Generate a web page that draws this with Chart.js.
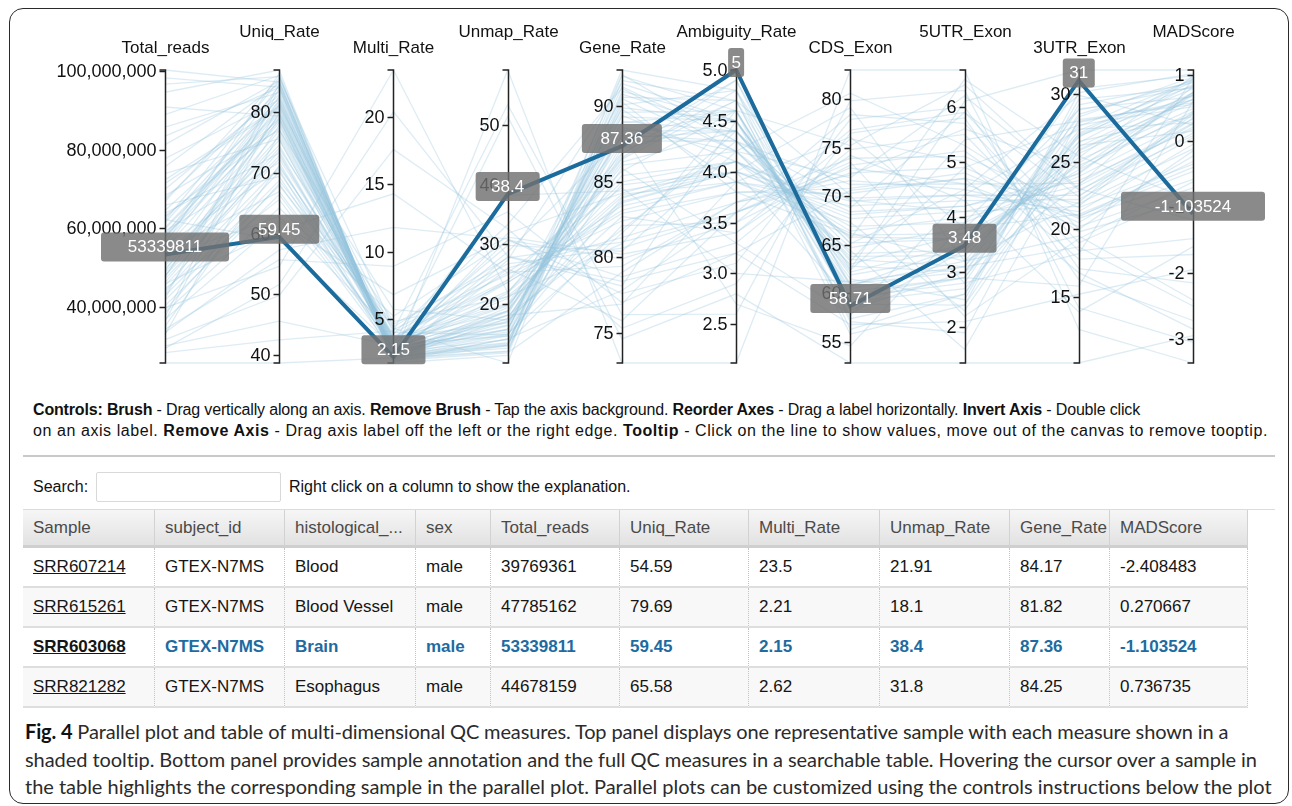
<!DOCTYPE html>
<html>
<head>
<meta charset="utf-8">
<title>QC parallel plot</title>
<script src="https://cdn.jsdelivr.net/npm/chart.js@4.4.1/dist/chart.umd.min.js"></script>
<style>
  html, body { margin: 0; padding: 0; background: #fff; }
  body { width: 1292px; height: 806px; position: relative; overflow: hidden;
         font-family: "Liberation Sans", Arial, sans-serif; color: #111; }
  #plotWrap { position: absolute; left: 0; top: 0; width: 1292px; height: 380px; }
  #frame { position: absolute; left: 9px; top: 8px; width: 1278px; height: 794px;
           border: 1.5px solid #2a2a2a; border-radius: 14px; pointer-events: none; }
  #controls { position: absolute; left: 33px; top: 399px; font-size: 16px; line-height: 21px; color: #111; }
  #controls div { white-space: nowrap; }
  #rule { position: absolute; left: 23px; top: 455px; width: 1252px; height: 0; border-top: 2px solid #c9c9c9; }
  #searchLabel { position: absolute; left: 33px; top: 478px; font-size: 16px; white-space: nowrap; }
  #searchBox { position: absolute; left: 96px; top: 472px; width: 183px; height: 28px; border: 1px solid #d9d9d9; border-radius: 2px; }
  #searchHint { position: absolute; left: 289px; top: 478px; font-size: 16px; white-space: nowrap; }
  #tableTop { position: absolute; left: 23px; top: 509px; width: 1252px; height: 0; border-top: 1px solid #dcdcdc; }
  #qcTable { position: absolute; left: 23px; top: 510px; border-collapse: separate; border-spacing: 0;
             table-layout: fixed; width: 1225px; font-size: 17px; }
  #qcTable th { height: 35px; padding: 0 0 0 10px; text-align: left; font-weight: normal; color: #4a4a4a;
                background: linear-gradient(#f6f6f6, #e2e2e2); border-right: 1px solid #d2d2d2;
                border-bottom: 3px solid #cfcfcf; white-space: nowrap; overflow: hidden; }
  #qcTable td { height: 38px; padding: 0 0 0 10px; border-bottom: 2px solid #dedede; border-right: 1px dotted #c4c4c4;
                white-space: nowrap; overflow: hidden; color: #151515; }
  #qcTable tbody tr:nth-child(even) td { background: #f8f8f8; }
  #qcTable td.sid { text-decoration: underline; }
  #qcTable tr.hl td { font-weight: bold; color: #1d6ba0; }
  #qcTable tr.hl td.sid { color: #151515; }
  #caption { position: absolute; left: 25px; top: 718px; font-family: Lato, "Noto Sans", sans-serif;
             font-size: 20px; line-height: 27.5px; color: #2b2b2b; }
  #caption div { white-space: nowrap; }
  #caption b { color: #111; }
</style>
</head>
<body>
<div id="plotWrap"><canvas id="pc" width="1292" height="380"></canvas></div>

<div id="controls">
  <div class="fit" data-w="1107"><b>Controls: Brush</b> - Drag vertically along an axis. <b>Remove Brush</b> - Tap the axis background. <b>Reorder Axes</b> - Drag a label horizontally. <b>Invert Axis</b> - Double click</div>
  <div class="fit" data-w="1235">on an axis label. <b>Remove Axis</b> - Drag axis label off the left or the right edge. <b>Tooltip</b> - Click on the line to show values, move out of the canvas to remove tooptip.</div>
</div>
<div id="rule"></div>
<div id="searchLabel">Search:</div>
<div id="searchBox"></div>
<div id="searchHint">Right click on a column to show the explanation.</div>
<div id="tableTop"></div>
<table id="qcTable"><colgroup id="cols"></colgroup><thead><tr id="headRow"></tr></thead><tbody id="tableBody"></tbody></table>

<div id="caption">
  <div class="fit" data-w="1204"><b>Fig. 4</b> Parallel plot and table of multi-dimensional QC measures. Top panel displays one representative sample with each measure shown in a</div>
  <div class="fit" data-w="1232">shaded tooltip. Bottom panel provides sample annotation and the full QC measures in a searchable table. Hovering the cursor over a sample in</div>
  <div class="fit" data-w="1247">the table highlights the corresponding sample in the parallel plot. Parallel plots can be customized using the controls instructions below the plot</div>
</div>
<div id="frame"></div>

<script>
// ---- QC measures, one array per dimension (same sample order in every array) ----
const dimensionNames = ['Total_reads', 'Uniq_Rate', 'Multi_Rate', 'Unmap_Rate', 'Gene_Rate',
                        'Ambiguity_Rate', 'CDS_Exon', '5UTR_Exon', '3UTR_Exon', 'MADScore'];

const totalReads = [39769361, 47785162, 53339811, 44678159, 98214530, 61402887, 57933104, 35120476,
  66812390, 28431552, 72305918, 49618273, 85733046, 42907731, 55214689, 31708215, 63128840, 46205517,
  94561203, 38624918, 58709345, 51302786, 69918402, 33547120, 60216655, 44109873, 75621094, 25794226,
  54836012, 48017644, 64509371, 40318825, 56627903, 36912458, 81247760, 52018334, 45506291, 67433718,
  30126507, 59815242, 50429106, 88902371, 41716638, 62734019, 34329587, 57318820, 47112945, 100213457,
  58104322, 43217690, 65903118, 37402265, 52716048, 90813377, 61925410, 48806239, 71408852, 39211573,
  56018846, 45930127, 77702415, 33016694, 59327781, 50918302, 68311049, 42106655, 54129973, 96604518,
  63817260, 29522847, 57629104, 47718536, 73906281, 36317449, 55702618, 83411907, 49215370, 62208841];
const uniqRate = [54.59, 79.69, 59.45, 65.58, 84.1, 82.3, 78.5, 71.2, 85.6, 42.5, 80.9, 75.4, 83.2, 68.7,
  81.7, 49.8, 77.3, 73.6, 86.9, 64.2, 79.8, 76.9, 82.8, 57.3, 80.4, 70.1, 84.7, 38.7, 78.2, 72.8, 81.1,
  66.4, 79.1, 62.0, 85.1, 74.5, 70.9, 83.5, 45.6, 80.1, 76.0, 86.0, 67.9, 78.8, 55.7, 81.9, 72.3, 84.9,
  84.3, 77.8, 69.4, 83.9, 62.8, 79.3, 85.2, 74.0, 80.6, 68.2, 86.3, 60.5, 82.0, 76.4, 71.7, 81.4, 77.0,
  84.6, 66.9, 85.8, 73.2, 51.6, 82.5, 78.9, 75.6, 81.2, 70.5, 84.0, 79.6, 58.9];
const multiRate = [23.5, 2.21, 2.15, 2.62, 2.4, 3.1, 2.9, 3.5, 4.3, 4.1, 2.6, 3.3, 2.1, 4.6, 2.5, 17.6,
  3.0, 2.8, 1.72, 5.2, 2.7, 3.2, 2.3, 11.8, 2.0, 3.9, 2.2, 2.1, 2.4, 3.6, 2.6, 2.9, 2.1, 6.8, 1.9, 3.4,
  4.2, 2.5, 3.0, 2.8, 3.1, 2.0, 4.4, 2.3, 8.9, 2.4, 3.7, 2.1,
  2.3, 3.4, 2.7, 2.0, 3.9, 2.6, 2.2, 4.8, 2.4, 3.1, 1.9, 14.3, 2.7, 3.5, 2.4, 2.9, 5.7,
  2.2, 3.3, 2.1, 2.8, 20.4, 2.5, 3.0, 2.6, 4.0, 2.2, 1.8, 3.6, 2.9];
const unmapRate = [21.91, 18.1, 38.4, 31.8, 13.5, 14.6, 18.6, 25.3, 10.1, 53.4, 16.5, 21.3, 14.7, 26.7,
  15.8, 32.6, 19.7, 23.6, 11.38, 30.6, 17.5, 19.9, 14.9, 30.9, 17.6, 26.0, 13.1, 59.2, 19.4, 23.6, 16.3,
  30.7, 18.8, 31.2, 13.0, 22.1, 24.9, 14.0, 51.4, 17.1, 20.9, 12.0, 27.7, 18.9, 35.4, 15.7, 24.0, 13.0,
  13.4, 18.8, 27.9, 14.1, 33.3, 18.1, 12.6, 21.2, 17.0, 28.7, 11.8, 25.2, 15.3, 20.1, 25.9, 15.7, 17.3,
  13.2, 29.8, 12.1, 24.0, 28.0, 15.0, 18.1, 21.8, 14.8, 27.3, 14.2, 16.8, 38.2];
const geneRate = [84.17, 81.82, 87.36, 84.25, 90.8, 88.9, 86.1, 79.4, 91.7, 76.2, 89.3, 83.7, 88.4, 80.6,
  90.1, 75.3, 85.4, 82.9, 92.0, 78.7, 87.7, 84.8, 89.9, 77.6, 86.8, 81.3, 90.5, 73.0, 88.0, 83.1, 89.0,
  79.9, 86.5, 80.2, 91.3, 85.0, 82.4, 87.2, 74.6, 88.6, 84.0, 91.0, 81.0, 86.3, 77.0, 89.6, 83.4, 92.4,
  82.1, 90.6, 78.1, 85.9, 91.2, 76.9, 88.2, 80.9, 83.6, 87.9, 79.0, 84.6, 92.1, 86.6, 75.8, 89.4, 82.7,
  87.5, 80.4, 90.3, 85.7, 78.4, 81.6, 89.8, 86.9, 83.9, 91.5, 77.8, 88.1, 84.4];
const ambiguityRate = [3.9, 4.3, 5, 4.1, 4.4, 4.6, 4.2, 3.7, 4.7, 2.6, 4.5, 4.0, 4.4, 3.6, 4.8, 2.9, 4.1,
  3.8, 4.6, 3.3, 4.3, 4.0, 4.5, 3.1, 4.9, 3.7, 4.2, 2.12, 4.6, 3.9, 4.4, 3.5, 4.7, 3.4, 4.3, 4.1, 3.8,
  4.5, 2.8, 4.2, 4.0, 4.5, 3.6, 4.4, 3.2, 4.6, 3.9, 4.8,
  3.5, 4.7, 4.5, 3.3, 4.2, 3.9, 2.7, 4.6, 4.0, 4.4, 3.7, 3.0, 4.3, 4.8, 3.6, 4.1, 3.4,
  4.9, 4.2, 3.8, 4.6, 3.2, 4.4, 3.9, 4.7, 4.1, 4.5, 3.6, 4.3, 4.0];
const cdsExon = [66.2, 71.2, 58.71, 68.4, 63.5, 60.2, 65.8, 73.9, 57.4, 79.8, 61.9, 69.5, 62.8, 72.4,
  59.6, 76.5, 66.9, 70.3, 55.8, 74.8, 64.1, 67.7, 60.9, 77.9, 58.3, 71.6, 63.0, 82.98, 59.1, 69.0, 62.2,
  73.2, 57.1, 75.9, 64.7, 66.4, 70.8, 61.5, 52.84, 63.8, 68.1, 60.5, 72.9, 65.2, 56.8, 59.9, 69.8, 62.5,
  76.8, 70.1, 62.4, 57.9, 80.6, 67.3, 54.6, 75.2, 59.3, 65.1, 72.2, 61.2, 69.6, 56.3, 78.4, 64.4, 74.2,
  60.7, 71.9, 66.0, 58.9, 70.6, 63.3, 76.1, 61.0, 68.8, 57.7, 73.5, 65.6, 79.1];
const utr5Exon = [3.2, 4.6, 3.48, 4.2, 3.1, 2.9, 3.6, 5.1, 2.6, 6.3, 3.3, 4.4, 3.0, 4.9, 2.8, 5.8, 3.9,
  4.7, 2.4, 5.5, 3.4, 4.1, 3.2, 6.0, 3.0, 4.5, 3.7, 6.67, 2.7, 4.3, 3.5, 5.2, 1.9, 5.0, 3.8, 4.0, 4.8,
  2.5, 1.35, 3.3, 4.2, 3.1, 4.6, 3.6, 2.1, 2.9, 4.4, 6.1,
  5.9, 2.2, 4.9, 3.4, 5.3, 2.3, 3.9, 6.4, 2.9, 4.5, 5.6, 3.1, 4.1, 2.6, 5.7, 1.6, 4.3,
  3.5, 6.2, 3.7, 2.4, 4.7, 5.4, 3.8, 3.0, 5.9, 4.4, 2.8, 6.5, 3.2];
const utr3Exon = [19.5, 23.4, 31, 24.1, 26.8, 27.9, 24.7, 21.6, 29.2, 14.2, 26.1, 22.5, 27.3, 20.8, 28.5,
  16.3, 23.9, 21.9, 30.1, 18.4, 25.6, 23.2, 27.0, 17.1, 28.9, 21.0, 26.4, 12.6, 25.1, 22.2, 24.9, 19.8,
  28.1, 17.8, 27.6, 22.8, 20.5, 29.6, 10.12, 25.8, 23.6, 28.3, 20.2, 24.4, 15.2, 26.9, 21.3, 31.77,
  22.4, 19.3, 27.7, 25.3, 20.9, 26.2, 28.8, 23.0, 15.8, 29.9, 24.5, 18.7, 21.7, 27.1, 19.0, 25.9, 13.9,
  30.4, 22.9, 24.2, 26.5, 16.8, 28.0, 21.1, 23.3, 20.0, 27.4, 18.2, 25.4, 22.0];
const madScore = [-2.408483, 0.270667, -1.103524, 0.736735, 0.95, 0.62, 0.41, -0.35, 0.88, -3.05, 0.73,
  0.12, 0.84, -0.58, 0.91, -2.72, 0.33, -0.12, 1.02, -1.48, 0.58, 0.21, 0.79, -2.15, 0.67, -0.46, 0.86,
  -3.364, 0.49, 0.05, 0.71, -0.89, 0.55, -1.72, 0.93, 0.26, -0.23, 0.8, -2.95, 0.64, 0.18, 0.97, -0.71,
  0.45, -1.95, 0.69, -0.05, 1.076,
  0.35, -0.62, 0.52, 0.98, -0.31, 0.15, 0.82, -1.2, 0.6, 0.24, 0.74, -2.5, 0.41, 0.9, -0.78, 0.63, -1.6,
  0.99, 0.08, 0.7, 0.37, -2.85, 0.58, -0.4, 0.83, -0.15, 0.28, 0.96, -0.9, 0.44];

// ---- axis tick labels ----
const totalReadsTicks = [40000000, 60000000, 80000000, 100000000];
const uniqRateTicks = [40, 50, 60, 70, 80];
const multiRateTicks = [5, 10, 15, 20];
const unmapRateTicks = [20, 30, 40, 50];
const geneRateTicks = [75, 80, 85, 90];
const ambiguityRateTicks = [2.5, 3.0, 3.5, 4.0, 4.5, 5.0];
const cdsExonTicks = [55, 60, 65, 70, 75, 80];
const utr5ExonTicks = [2, 3, 4, 5, 6];
const utr3ExonTicks = [15, 20, 25, 30];
const madScoreTicks = [-3, -2, -1, 0, 1];

// ---- table annotation (first four samples of the arrays above) ----
const sampleIds = ['SRR607214', 'SRR615261', 'SRR603068', 'SRR821282'];
const subjectIds = ['GTEX-N7MS', 'GTEX-N7MS', 'GTEX-N7MS', 'GTEX-N7MS'];
const tissues = ['Blood', 'Blood Vessel', 'Brain', 'Esophagus'];
const sexes = ['male', 'male', 'male', 'male'];
const tableHeaders = ['Sample', 'subject_id', 'histological_...', 'sex', 'Total_reads', 'Uniq_Rate',
                      'Multi_Rate', 'Unmap_Rate', 'Gene_Rate', 'MADScore'];
const selectedSample = 2;

const dimensionValues = [totalReads, uniqRate, multiRate, unmapRate, geneRate,
                         ambiguityRate, cdsExon, utr5Exon, utr3Exon, madScore];
const dimensionTicks = [totalReadsTicks, uniqRateTicks, multiRateTicks, unmapRateTicks, geneRateTicks,
                        ambiguityRateTicks, cdsExonTicks, utr5ExonTicks, utr3ExonTicks, madScoreTicks];
const tickFormat = [
  v => v.toLocaleString('en-US'), v => String(v), v => String(v), v => String(v), v => String(v),
  v => v.toFixed(1), v => String(v), v => String(v), v => String(v), v => String(v)
];
const axisId = i => 'axis' + i;

// ---- scales: hidden x index scale + one vertical value scale per dimension ----
const scales = {
  x: { type: 'linear', min: 0, max: dimensionNames.length - 1, bounds: 'data', display: false },
  yv: { type: 'linear', display: false }
};
dimensionValues.forEach((vals, i) => {
  scales[axisId(i)] = {
    type: 'linear', axis: 'y', display: false, bounds: 'data',
    min: Math.min(...vals), max: Math.max(...vals),
    afterBuildTicks: sc => { sc.ticks = dimensionTicks[i].map(v => ({ value: v })); }
  };
});

// ---- one polyline per sample; the selected sample first so it is drawn on top ----
const sampleOrder = [selectedSample].concat(totalReads.map((_, s) => s).filter(s => s !== selectedSample));
const datasets = sampleOrder.map(s => ({
  label: 'sample' + s,
  data: dimensionNames.map((_, i) => ({ x: i, y: dimensionValues[i][s] })),
  borderColor: s === selectedSample ? '#1c6b9d' : 'rgba(150, 195, 222, 0.32)',
  borderWidth: s === selectedSample ? 4 : 1.3,
  pointRadius: 0,
  tension: 0,
  clip: false,
  xAxisID: 'x',
  yAxisID: 'yv'
}));

function roundRect(ctx, x, y, w, h, r) {
  ctx.beginPath();
  ctx.moveTo(x + r, y);
  ctx.lineTo(x + w - r, y);
  ctx.arcTo(x + w, y, x + w, y + r, r);
  ctx.lineTo(x + w, y + h - r);
  ctx.arcTo(x + w, y + h, x + w - r, y + h, r);
  ctx.lineTo(x + r, y + h);
  ctx.arcTo(x, y + h, x, y + h - r, r);
  ctx.lineTo(x, y + r);
  ctx.arcTo(x, y, x + r, y, r);
  ctx.closePath();
}

// Places every vertex on its own dimension's scale, then draws the axes and the value tags.
const parallelPlugin = {
  id: 'parallelPlugin',
  afterDatasetsUpdate(chart) {
    chart.data.datasets.forEach((ds, di) => {
      const meta = chart.getDatasetMeta(di);
      meta.data.forEach((pt, i) => {
        pt.y = chart.scales[axisId(i)].getPixelForValue(ds.data[i].y);
      });
    });
  },
  afterDatasetsDraw(chart) {
    const ctx = chart.ctx;
    const xs = chart.scales.x;
    ctx.save();
    dimensionNames.forEach((name, i) => {
      const sc = chart.scales[axisId(i)];
      const x = Math.round(xs.getPixelForValue(i)) + 0.5;
      ctx.strokeStyle = '#222';
      ctx.lineWidth = 1.5;
      ctx.beginPath();
      ctx.moveTo(x - 6, sc.top);
      ctx.lineTo(x, sc.top);
      ctx.lineTo(x, sc.bottom);
      ctx.lineTo(x - 6, sc.bottom);
      ctx.stroke();
      ctx.fillStyle = '#111';
      ctx.font = '18px "Liberation Sans", Arial, sans-serif';
      ctx.textAlign = 'right';
      ctx.textBaseline = 'middle';
      sc.ticks.forEach(t => {
        const y = Math.round(sc.getPixelForValue(t.value)) + 0.5;
        ctx.beginPath();
        ctx.moveTo(x - 6, y);
        ctx.lineTo(x, y);
        ctx.stroke();
        ctx.fillText(tickFormat[i](t.value), x - 9, y + 1);
      });
      ctx.font = '17px "Liberation Sans", Arial, sans-serif';
      ctx.textAlign = 'center';
      ctx.fillText(name, x, i % 2 === 0 ? 48 : 32);
    });
    ctx.restore();
  },
  afterDraw(chart) {
    const ctx = chart.ctx;
    const meta = chart.getDatasetMeta(0);
    ctx.save();
    ctx.font = '17px "Liberation Sans", Arial, sans-serif';
    ctx.textAlign = 'center';
    ctx.textBaseline = 'middle';
    meta.data.forEach((pt, i) => {
      const text = String(dimensionValues[i][selectedSample]);
      const w = text.length * 16;
      const h = 29;
      roundRect(ctx, pt.x - w / 2, pt.y - 22, w, h, 3);
      ctx.fillStyle = 'rgba(112, 112, 112, 0.82)';
      ctx.fill();
      ctx.fillStyle = '#fff';
      ctx.fillText(text, pt.x, pt.y - 7);
    });
    ctx.restore();
  }
};

new Chart(document.getElementById('pc'), {
  type: 'line',
  data: { datasets },
  options: {
    responsive: false,
    animation: false,
    events: [],
    devicePixelRatio: 1,
    layout: { padding: { left: 165, right: 99, top: 70, bottom: 17 } },
    scales,
    plugins: { legend: { display: false }, tooltip: { enabled: false } }
  },
  plugins: [parallelPlugin]
});

// ---- table ----
const colWidths = [132, 130, 131, 75, 129, 129, 131, 130, 100, 138];
const cols = document.getElementById('cols');
colWidths.forEach(w => {
  const col = document.createElement('col');
  col.style.width = w + 'px';
  cols.appendChild(col);
});
const headRow = document.getElementById('headRow');
tableHeaders.forEach(h => {
  const th = document.createElement('th');
  th.textContent = h;
  headRow.appendChild(th);
});
const body = document.getElementById('tableBody');
sampleIds.forEach((id, r) => {
  const tr = document.createElement('tr');
  if (r === selectedSample) tr.className = 'hl';
  const cells = [id, subjectIds[r], tissues[r], sexes[r], totalReads[r], uniqRate[r],
                 multiRate[r], unmapRate[r], geneRate[r], madScore[r]];
  cells.forEach((v, c) => {
    const td = document.createElement('td');
    td.textContent = String(v);
    if (c === 0) td.className = 'sid';
    tr.appendChild(td);
  });
  body.appendChild(tr);
});

// ---- stretch each text line to its column width ----
function fitLines() {
  document.querySelectorAll('.fit').forEach(el => {
    el.style.letterSpacing = '0px';
    el.style.display = 'inline-block';
    const w = el.getBoundingClientRect().width;
    const n = el.textContent.length;
    const target = +el.dataset.w;
    el.style.letterSpacing = ((target - w) / n).toFixed(3) + 'px';
    el.style.display = 'block';
  });
}
fitLines();
if (document.fonts && document.fonts.ready) document.fonts.ready.then(fitLines);
</script>
</body>
</html>
